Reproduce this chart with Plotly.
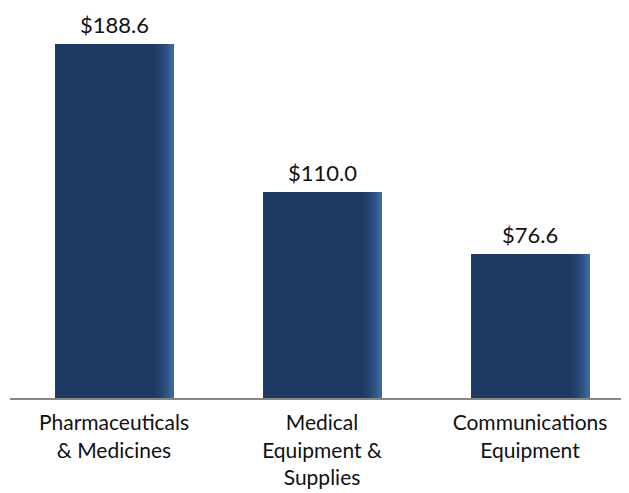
import plotly.graph_objects as go

categories = ["Pharmaceuticals<br>& Medicines", "Medical<br>Equipment &<br>Supplies", "Communications<br>Equipment"]
values = [188.6, 110.0, 76.6]
value_labels = ["$188.6", "$110.0", "$76.6"]

BAR_W = 0.572
base_color = "#1D3A63"
# gradient strips along the right edge of each bar
strip_colors = ["#1E3C66", "#1F3E69", "#21406C", "#234370", "#254673", "#274977",
                "#2A4D7C", "#2D5281", "#305786", "#345C8C", "#376193", "#3B6799"]
strip_frac = 0.0075

fig = go.Figure()
fig.add_trace(go.Bar(x=categories, y=values, width=BAR_W, marker=dict(color=base_color, line=dict(width=0)),
                     hoverinfo="skip", showlegend=False))
n = len(strip_colors)
for i, c in enumerate(strip_colors):
    off = BAR_W / 2 - (n - i) * strip_frac
    fig.add_trace(go.Bar(x=categories, y=values, width=strip_frac + 0.002, offset=off,
                         marker=dict(color=c, line=dict(width=0)), hoverinfo="skip", showlegend=False))

for cat, v, lab in zip(categories, values, value_labels):
    fig.add_annotation(x=cat, y=v, text=lab, showarrow=False, yanchor="bottom", yshift=4,
                       font=dict(family="Lato", size=22, color="#111111"))

fig.update_layout(
    width=621, height=485,
    margin=dict(l=2, r=0, t=12, b=95, autoexpand=False),
    paper_bgcolor="white", plot_bgcolor="white",
    barmode="overlay", bargap=0,
    font=dict(family="Lato", size=19, color="#111111"),
    xaxis=dict(range=[-0.5, 2.476], showline=True, linecolor="#868686", linewidth=2, automargin=False,
               showgrid=False, ticks="", ticklabelstandoff=5, tickfont=dict(size=21)),
    yaxis=dict(range=[0, 201.4], visible=False, showgrid=False, automargin=False),
)
fig.write_html("out.html")
